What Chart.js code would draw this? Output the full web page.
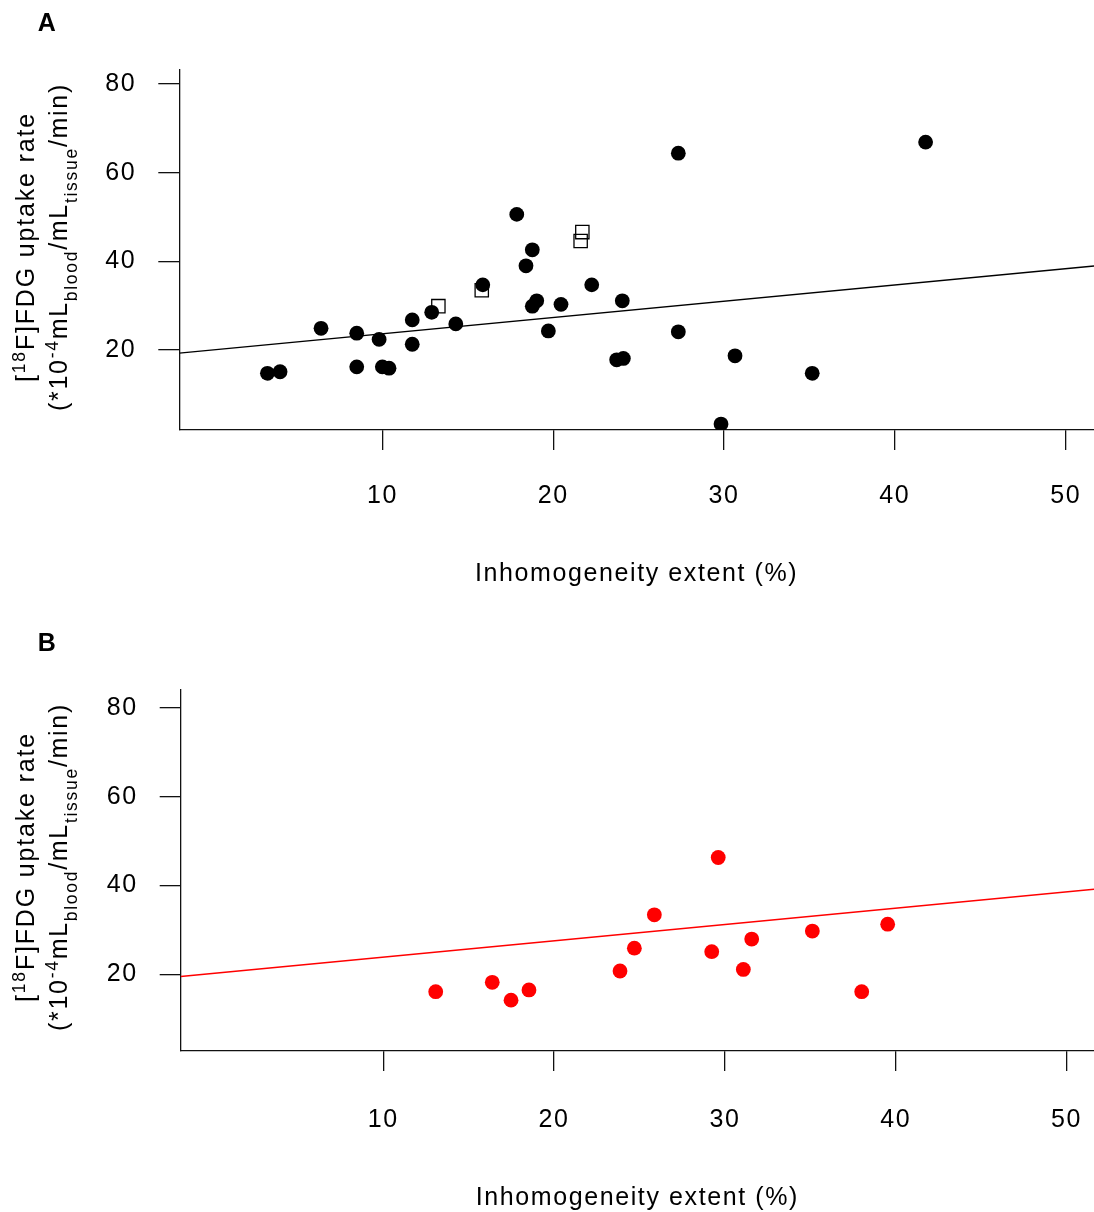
<!DOCTYPE html>
<html>
<head>
<meta charset="utf-8">
<script src="https://cdn.jsdelivr.net/npm/chart.js@4.4.1/dist/chart.umd.min.js"></script>
<style>
html,body{margin:0;padding:0;background:#fff;overflow:hidden;}
#wrap{position:relative;width:1094px;height:1212px;overflow:hidden;background:#fff;}
canvas{position:absolute;left:0;}
#cA{top:0;}
#cB{top:620px;}
</style>
</head>
<body>
<div id="wrap">
<canvas id="cA" width="1094" height="606"></canvas>
<canvas id="cB" width="1094" height="598"></canvas>
</div>
<script>
// ---- tick labels ----
const xTicks = [10, 20, 30, 40, 50];
const yTicks = [20, 40, 60, 80];

// ---- Panel A: filled black points ----
const aFilledX = [3.26, 4.0, 6.4, 8.49, 8.49, 9.8, 9.99, 10.38, 11.74, 11.74, 12.88, 14.29, 15.87, 17.86, 18.77, 18.4, 18.77, 19.03, 19.71, 20.45, 22.25, 23.71, 24.1, 24.04, 27.32, 41.8, 27.32, 30.64, 35.16, 29.82];
const aFilledY = [14.75, 15.1, 24.9, 23.8, 16.2, 22.4, 16.2, 15.9, 26.8, 21.3, 28.5, 25.9, 34.7, 50.6, 42.6, 39.0, 29.9, 31.1, 24.3, 30.3, 34.7, 17.8, 18.1, 31.1, 64.4, 66.9, 24.1, 18.7, 14.75, 3.3];
// ---- Panel A: open squares ----
const aOpenX = [13.27, 15.81, 21.7, 21.6];
const aOpenY = [29.9, 33.5, 46.6, 44.6];
// ---- Panel A: fitted line end points ----
const aFitX = [-1.9, 51.66];
const aFitY = [19.3, 38.96];

// ---- Panel B: red points ----
const bX = [13.07, 16.38, 17.48, 18.53, 23.86, 24.7, 25.87, 29.61, 29.23, 31.08, 31.57, 35.12, 38.01, 39.53];
const bY = [16.1, 18.2, 14.2, 16.5, 20.75, 25.9, 33.4, 46.3, 25.1, 21.1, 27.95, 29.75, 16.1, 31.3];
// ---- Panel B: fitted line end points ----
const bFitX = [-1.86, 51.61];
const bFitY = [19.5, 39.14];

// ---- texts ----
const xTitle = 'Inhomogeneity extent (%)';
const yTitleLine1 = [['[', 'n'], ['18', 'sup'], ['F]FDG uptake rate', 'n']];
const yTitleLine2 = [['(*10', 'n'], ['-4', 'sup'], ['mL', 'n'], ['blood', 'sub'], ['/mL', 'n'], ['tissue', 'sub'], ['/min)', 'n']];

const FONT = "'Liberation Sans', Arial, Helvetica, sans-serif";
const LS = 1.6;
Chart.defaults.font.family = FONT;
Chart.defaults.color = '#000';

function pts(xs, ys) { return xs.map((x, i) => ({ x: x, y: ys[i] })); }

function drawRich(ctx, segs, size, target, bx, cy) {
  const small = size * 0.7;
  let nat = 0, n = 0;
  ctx.letterSpacing = '0px';
  const ws = segs.map(s => {
    ctx.font = (s[1] === 'n' ? size : small) + 'px ' + FONT;
    const w = ctx.measureText(s[0]).width;
    nat += w; n += s[0].length;
    return w;
  });
  const sp = (target - nat) / n;
  ctx.save();
  ctx.translate(bx, cy);
  ctx.rotate(-Math.PI / 2);
  ctx.textAlign = 'left';
  ctx.textBaseline = 'alphabetic';
  ctx.fillStyle = '#000';
  let u = -target / 2;
  segs.forEach((s, i) => {
    ctx.font = (s[1] === 'n' ? size : small) + 'px ' + FONT;
    ctx.letterSpacing = sp + 'px';
    const dy = s[1] === 'sup' ? -size * 0.36 : (s[1] === 'sub' ? size * 0.38 : 0);
    ctx.fillText(s[0], u, dy);
    u += ws[i] + sp * s[0].length;
  });
  ctx.restore();
}

const richPlugin = {
  id: 'rich',
  beforeDraw(chart) { chart.ctx.letterSpacing = LS + 'px'; },
  afterDraw(chart, args, o) {
    const ctx = chart.ctx;
    ctx.save();
    ctx.letterSpacing = '0px';
    ctx.font = 'bold 25px ' + FONT;
    ctx.fillStyle = '#000';
    ctx.textAlign = 'center';
    ctx.textBaseline = 'alphabetic';
    ctx.fillText(o.letter, 46.7, 30.5);
    drawRich(ctx, yTitleLine1, 25, 270, 34, o.titleCY);
    drawRich(ctx, yTitleLine2, 25, 328, 67, o.titleCY);
    ctx.restore();
    ctx.letterSpacing = '0px';
  }
};

function makeChart(id, cfg) {
  const axisColor = '#111';
  return new Chart(document.getElementById(id), {
    type: 'scatter',
    data: { datasets: cfg.datasets },
    plugins: [richPlugin],
    options: {
      responsive: false,
      animation: false,
      devicePixelRatio: 1,
      events: [],
      layout: { autoPadding: false, padding: { top: 70, right: 0, left: 0, bottom: cfg.padBottom } },
      plugins: {
        legend: { display: false },
        tooltip: { enabled: false },
        rich: { letter: cfg.letter, titleCY: cfg.titleCY }
      },
      scales: {
        x: {
          type: 'linear',
          min: cfg.xMin, max: cfg.xMax,
          afterBuildTicks: s => { s.ticks = xTicks.map(v => ({ value: v })); },
          afterFit: s => { s.height = cfg.xHeight; s.paddingLeft = 0; s.paddingRight = 0; },
          ticks: { font: { size: 25 }, color: '#000', padding: cfg.xTickPad, maxRotation: 0, autoSkip: false },
          grid: { display: true, drawOnChartArea: false, drawTicks: true, tickLength: 20, color: axisColor, lineWidth: 1.3 },
          border: { display: true, color: axisColor, width: 1.3 },
          title: { display: true, text: xTitle, font: { size: 25 }, color: '#000', padding: 0 }
        },
        y: {
          type: 'linear',
          min: cfg.yMin, max: cfg.yMax,
          afterBuildTicks: s => { s.ticks = yTicks.map(v => ({ value: v })); },
          afterFit: s => { s.width = cfg.yWidth; s.paddingTop = 0; s.paddingBottom = 0; },
          ticks: { font: { size: 25 }, color: '#000', padding: 22, autoSkip: false },
          grid: { display: true, drawOnChartArea: false, drawTicks: true, tickLength: 21, color: axisColor, lineWidth: 1.3 },
          border: { display: true, color: axisColor, width: 1.3 }
        }
      }
    }
  });
}

makeChart('cA', {
  letter: 'A', titleCY: 247,
  padBottom: 16.4, xHeight: 159.6, yWidth: 179.3, xTickPad: 31.2,
  xMin: -1.9, xMax: 51.66, yMin: 1.96, yMax: 83.17,
  datasets: [
    { data: pts(aFilledX, aFilledY), pointStyle: 'circle', pointRadius: 7.4, backgroundColor: '#000', borderWidth: 0, showLine: false },
    { data: pts(aOpenX, aOpenY), pointStyle: 'rect', pointRadius: 9.4, backgroundColor: 'rgba(0,0,0,0)', borderColor: '#000', borderWidth: 1.3, showLine: false },
    { data: pts(aFitX, aFitY), showLine: true, pointRadius: 0, borderColor: '#000', borderWidth: 1.4, fill: false }
  ]
});

makeChart('cB', {
  letter: 'B', titleCY: 247,
  padBottom: 4.7, xHeight: 162.3, yWidth: 180.7, xTickPad: 34,
  xMin: -1.86, xMax: 51.61, yMin: 2.75, yMax: 84.0,
  datasets: [
    { data: pts(bX, bY), pointStyle: 'circle', pointRadius: 7.4, backgroundColor: '#ff0000', borderWidth: 0, showLine: false },
    { data: pts(bFitX, bFitY), showLine: true, pointRadius: 0, borderColor: '#ff0000', borderWidth: 1.6, fill: false }
  ]
});
</script>
</body>
</html>
